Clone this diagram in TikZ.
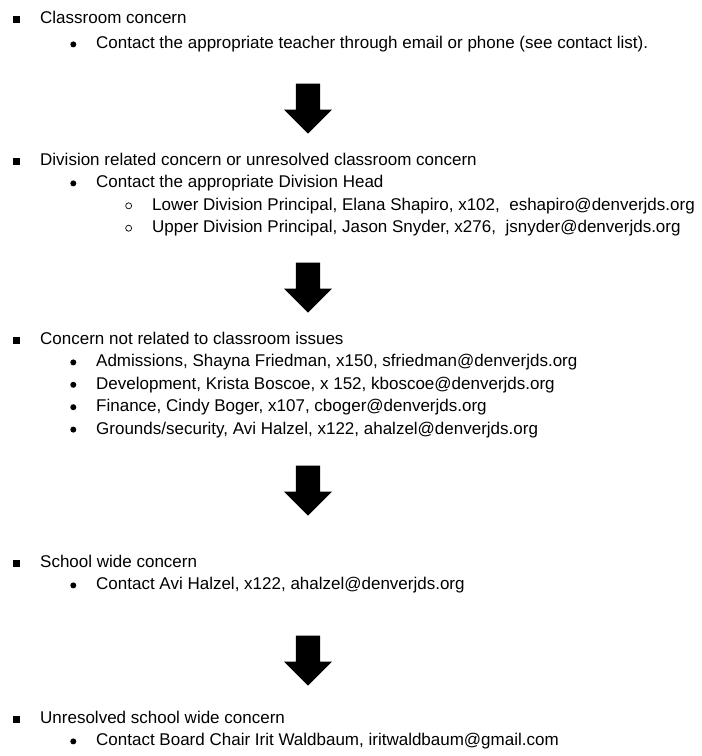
\documentclass[tikz,border=0pt]{standalone}
\usepackage{fontspec}
\setmainfont{Liberation Sans}
\usetikzlibrary{positioning, shapes.arrows}
\tikzset{
every node/.style={inner sep=0pt}, % tight boxes round the text
entry/.style={font=\fontsize{17}{20}\selectfont, text height=12.5pt, text depth=3.5pt, anchor=west},
sqbul/.style={fill=black, minimum size=7pt}, % top level bullet
dotbul/.style={circle, fill=black, minimum size=6pt}, % second level bullet
ringbul/.style={circle, draw=black, line width=0.7pt, minimum size=6pt}, % third level bullet
downarrow/.style={single arrow, fill=black, rotate=-90, anchor=tip, inner xsep=0pt, inner ysep=12pt,
  minimum height=50pt, minimum width=48pt, single arrow head extend=12pt},
}
\begin{document}
\begin{tikzpicture}[x=1pt, y=-1pt]
  \useasboundingbox (0,0) rectangle (702,756);

  % step 1
  \node[entry] (cls) at (40,19) {Classroom concern};
  \node[entry, below right=9pt and 56pt of cls.south west, anchor=north west] (clsA) {Contact the appropriate teacher through email or phone (see contact list).};
  \node[sqbul, left=20pt of cls.west] (bcls) {};
  \node[dotbul, left=19.5pt of clsA.west] (bclsA) {};

  \node[downarrow] (arr1) at (308,134) {};

  % step 2
  \node[entry] (div) at (40,161) {Division related concern or unresolved classroom concern};
  \node[entry, below right=6pt and 56pt of div.south west, anchor=north west] (divA) {Contact the appropriate Division Head};
  \node[entry, below right=6pt and 56pt of divA.south west, anchor=north west] (divLo) {Lower Division Principal, Elana Shapiro, x102, \ eshapiro@denverjds.org};
  \node[entry, below=6pt of divLo.south west, anchor=north west] (divUp) {Upper Division Principal, Jason Snyder, x276, \ jsnyder@denverjds.org};
  \node[sqbul, left=20pt of div.west] (bdiv) {};
  \node[dotbul, left=19.5pt of divA.west] (bdivA) {};
  \node[ringbul, left=20pt of divLo.west] (bdivLo) {};
  \node[ringbul, left=20pt of divUp.west] (bdivUp) {};

  \node[downarrow] (arr2) at (308,313) {};

  % step 3
  \node[entry] (off) at (40,340) {Concern not related to classroom issues};
  \node[entry, below right=6pt and 56pt of off.south west, anchor=north west] (offA) {Admissions, Shayna Friedman, x150, sfriedman@denverjds.org};
  \node[entry, below=6pt of offA.south west, anchor=north west] (offB) {Development, Krista Boscoe, x 152, kboscoe@denverjds.org};
  \node[entry, below=6pt of offB.south west, anchor=north west] (offC) {Finance, Cindy Boger, x107, cboger@denverjds.org};
  \node[entry, below=6pt of offC.south west, anchor=north west] (offD) {Grounds/security, Avi Halzel, x122, ahalzel@denverjds.org};
  \node[sqbul, left=20pt of off.west] (boff) {};
  \node[dotbul, left=19.5pt of offA.west] (boffA) {};
  \node[dotbul, left=19.5pt of offB.west] (boffB) {};
  \node[dotbul, left=19.5pt of offC.west] (boffC) {};
  \node[dotbul, left=19.5pt of offD.west] (boffD) {};

  \node[downarrow] (arr3) at (308,516) {};

  % step 4
  \node[entry] (sch) at (40,563) {School wide concern};
  \node[entry, below right=6pt and 56pt of sch.south west, anchor=north west] (schA) {Contact Avi Halzel, x122, ahalzel@denverjds.org};
  \node[sqbul, left=20pt of sch.west] (bsch) {};
  \node[dotbul, left=19.5pt of schA.west] (bschA) {};

  \node[downarrow] (arr4) at (308,686) {};

  % step 5
  \node[entry] (brd) at (40,719) {Unresolved school wide concern};
  \node[entry, below right=6pt and 56pt of brd.south west, anchor=north west] (brdA) {Contact Board Chair Irit Waldbaum, iritwaldbaum@gmail.com};
  \node[sqbul, left=20pt of brd.west] (bbrd) {};
  \node[dotbul, left=19.5pt of brdA.west] (bbrdA) {};
\end{tikzpicture}
\end{document}
